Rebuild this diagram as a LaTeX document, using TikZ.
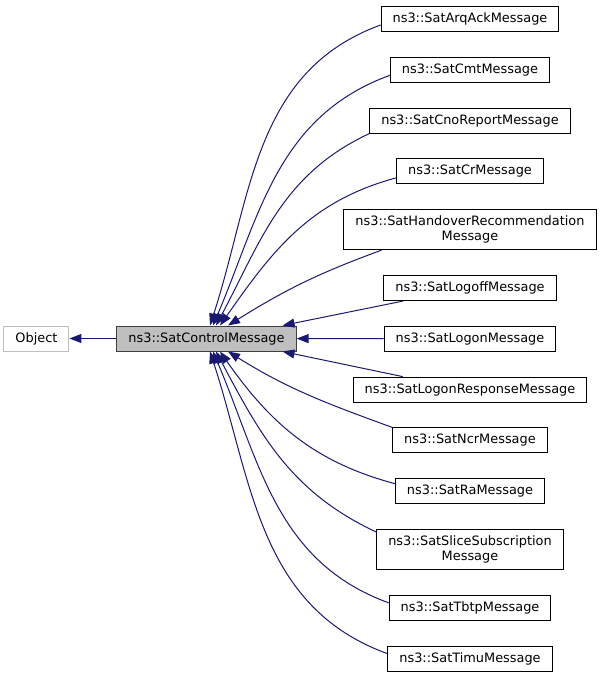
\documentclass[tikz,border=0pt]{standalone}
\usepackage{fontspec}
\setmainfont{DejaVu Sans}
\usetikzlibrary{positioning,arrows.meta}
\definecolor{edgeblue}{HTML}{191970}
\definecolor{boxgray}{HTML}{BFBFBF}
\definecolor{boxdark}{HTML}{404040}

\begin{document}
\begin{tikzpicture}[x=1pt, y=1pt,
node distance = 24.8pt and 47pt,
every node/.style={font=\fontsize{12.9}{15.3}\selectfont},
derived/.style={rectangle, draw=black, line width=1pt, inner xsep=11.5pt, minimum height=25pt},
derived2/.style={derived, align=center, minimum height=40pt},
focus/.style={rectangle, draw=boxdark, fill=boxgray, line width=1pt, inner xsep=11.5pt, minimum height=25pt},
extern/.style={rectangle, draw=boxgray, line width=1pt, inner xsep=11.5pt, minimum height=25pt},
inherit/.style={-{Triangle[length=12pt,width=9pt]}, edgeblue, line width=1pt}]

\useasboundingbox (0,0) rectangle (601,-677);

\node[focus] (ctrl) at (206.5,-338.5) {ns3::SatControlMessage};
\node[extern] (obj) [left = of ctrl] {Object};

\node[derived] (arq) at (470,-19) {ns3::SatArqAckMessage};
\node[derived] (cmt) [below = of arq] {ns3::SatCmtMessage};
\node[derived] (cno) [below = of cmt] {ns3::SatCnoReportMessage};
\node[derived] (cr) [below = of cno] {ns3::SatCrMessage};
\node[derived2] (handover) [below = of cr] {ns3::SatHandoverRecommendation\\Message};
\node[derived] (logoff) [below = of handover] {ns3::SatLogoffMessage};
\node[derived] (logon) [below = of logoff] {ns3::SatLogonMessage};
\node[derived] (logonresp) [below = of logon] {ns3::SatLogonResponseMessage};
\node[derived] (ncr) [below = of logonresp] {ns3::SatNcrMessage};
\node[derived] (ra) [below = of ncr] {ns3::SatRaMessage};
\node[derived2] (slice) [below = of ra] {ns3::SatSliceSubscription\\Message};
\node[derived] (tbtp) [below = of slice] {ns3::SatTbtpMessage};
\node[derived] (timu) [below = of tbtp] {ns3::SatTimuMessage};

\draw[inherit] (ctrl) -- (obj);

\draw[inherit] ([yshift=-6pt]arq.west) to[out=200,in=72] ([xshift=3.5pt]ctrl.north);
\draw[inherit] ([yshift=-5.5pt]cmt.west) to[out=200,in=67] ([xshift=6.5pt]ctrl.north);
\draw[inherit] (cno.south west) to[out=205,in=62] ([xshift=9.5pt]ctrl.north);
\draw[inherit] ([yshift=-6.5pt]cr.west) to[out=195,in=55] ([xshift=13.5pt]ctrl.north);
\draw[inherit] ([xshift=38pt]handover.south west) to[out=200,in=32] ([xshift=21.5pt]ctrl.north);
\draw[inherit] ([xshift=20pt]logoff.south west) -- ([xshift=-14pt]ctrl.north east);
\draw[inherit] (logon) -- (ctrl);
\draw[inherit] ([xshift=50pt]logonresp.north west) -- ([xshift=-14pt]ctrl.south east);
\draw[inherit] (ncr.north west) to[out=160,in=-32] ([xshift=21.5pt]ctrl.south);
\draw[inherit] ([yshift=7.5pt]ra.west) to[out=165,in=-55] ([xshift=13.5pt]ctrl.south);
\draw[inherit] ([yshift=-3pt]slice.north west) to[out=155,in=-62] ([xshift=9.5pt]ctrl.south);
\draw[inherit] ([yshift=5pt]tbtp.west) to[out=160,in=-67] ([xshift=6.5pt]ctrl.south);
\draw[inherit] ([yshift=5pt]timu.west) to[out=160,in=-72] ([xshift=3.5pt]ctrl.south);
\end{tikzpicture}
\end{document}
